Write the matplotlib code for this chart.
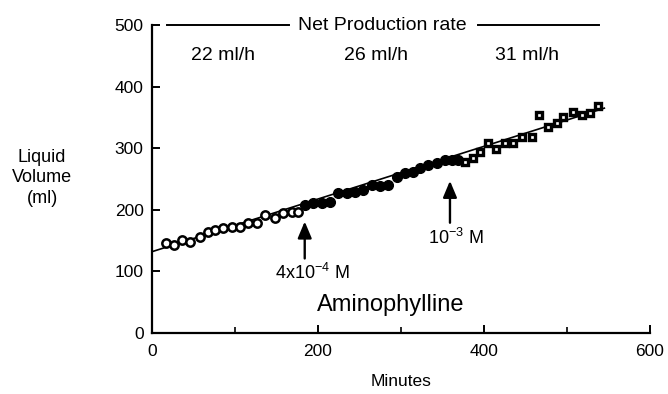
import matplotlib
matplotlib.use("Agg")
import matplotlib.pyplot as plt

plt.rcParams['font.family'] = ['Liberation Sans', 'DejaVu Sans']

# open circles (control)
open_x = [17, 27, 36, 46, 58, 67, 76, 86, 96, 106, 116, 127, 136, 148, 158, 169, 176]
open_y = [146, 143, 151, 148, 156, 164, 167, 170, 172, 172, 179, 179, 192, 187, 195, 196, 196]
# filled circles (4x10^-4 M)
fill_x = [184, 194, 205, 214, 224, 235, 245, 254, 265, 275, 284, 295, 305, 314, 323, 333, 343, 353, 361, 369]
fill_y = [208, 211, 211, 213, 227, 227, 229, 232, 240, 239, 240, 253, 260, 261, 268, 273, 276, 281, 281, 281]
# squares (10^-3 M)
sq_x = [377, 387, 395, 405, 415, 425, 435, 446, 458, 466, 477, 488, 495, 507, 518, 528, 537]
sq_y = [278, 284, 294, 308, 299, 308, 308, 318, 318, 354, 334, 341, 351, 359, 354, 357, 368]
# regression line
line_x = [0, 545]
line_y = [132, 365]

rates = ["22 ml/h", "26 ml/h", "31 ml/h"]
rate_x = [86, 270, 452]

fig = plt.figure(figsize=(6.68, 3.94), dpi=100)
ax = fig.add_axes([152/668, 1-333/394, (650-152)/668, (333-25)/394])

ax.plot(line_x, line_y, color='black', lw=1.2, zorder=1)
ax.plot(open_x, open_y, 'o', ms=6, mfc='white', mec='black', mew=1.8, zorder=2)
ax.plot(fill_x, fill_y, 'o', ms=7, mfc='black', mec='black', mew=1, zorder=2)
ax.plot(sq_x, sq_y, 's', ms=5, mfc='white', mec='black', mew=2.4, zorder=2)

ax.set_xlim(0, 600)
ax.set_ylim(0, 500)
ax.spines['top'].set_visible(False)
ax.spines['right'].set_visible(False)
for s in ['left', 'bottom']:
    ax.spines[s].set_linewidth(1.6)
ax.set_xticks([0, 200, 400, 600])
ax.set_xticks([100, 300, 500], minor=True)
ax.set_yticks([0, 100, 200, 300, 400, 500])
ax.tick_params(axis='both', which='major', direction='in', length=6, width=1.4, labelsize=12.5)
ax.tick_params(axis='x', which='minor', direction='in', length=4, width=1.2)
ax.tick_params(axis='x', pad=8)
ax.tick_params(axis='y', pad=6)

ax.set_xlabel("Minutes", fontsize=12.5, labelpad=11)
fig.text(42/668, 1-178/394, "Liquid\nVolume\n(ml)", ha='center', va='center',
         fontsize=13, linespacing=1.25)

# Net production rate header
ax.text(278, 500, "Net Production rate", ha='center', va='center', fontsize=14,
        clip_on=False)
ax.plot([18, 165], [500, 500], color='black', lw=1.4, clip_on=False)
ax.plot([393, 538], [500, 500], color='black', lw=1.4, clip_on=False)
for t, x in zip(rates, rate_x):
    ax.text(x, 450, t, ha='center', va='center', fontsize=14)

# arrows
ax.annotate("", xy=(184, 181), xytext=(184, 121),
            arrowprops=dict(arrowstyle='-|>,head_length=1.0,head_width=0.42',
                            color='black', lw=1.7, shrinkA=0, shrinkB=0))
ax.text(193, 97, r"4x10$^{\mathregular{-4}}$ M", ha='center', va='center', fontsize=13)
ax.annotate("", xy=(359, 247), xytext=(359, 179),
            arrowprops=dict(arrowstyle='-|>,head_length=1.0,head_width=0.42',
                            color='black', lw=1.7, shrinkA=0, shrinkB=0))
ax.text(366, 154, r"10$^{\mathregular{-3}}$ M", ha='center', va='center', fontsize=13)
ax.text(288, 45, "Aminophylline", ha='center', va='center', fontsize=17)

fig.savefig("out.png", dpi=100)
